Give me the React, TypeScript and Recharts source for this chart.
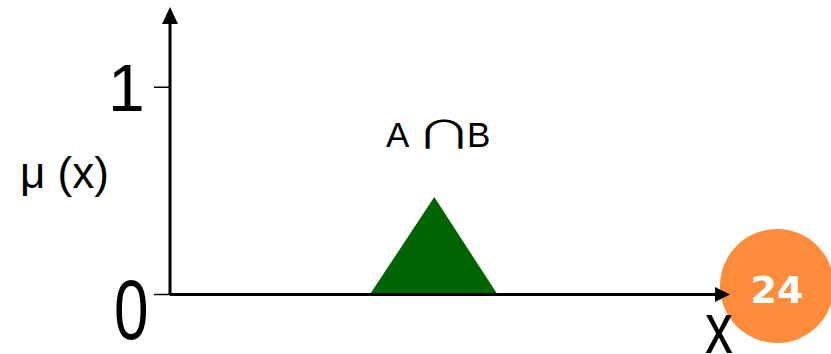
import React from "react";
import {
  ComposedChart,
  Area,
  XAxis,
  YAxis,
  ReferenceLine,
  ReferenceDot,
  Customized,
} from "recharts";

// Membership function of A ∩ B (triangle)
const triangleX = [36.6, 48.4, 60];
const triangleMu = [0, 0.47, 0];
const yTicks = [0, 1];
const yTickLabels = ["0", "1"];
const xDomain: [number, number] = [0, 100];
const yDomain: [number, number] = [0, 1.31];
const pageNumber = "24";

const data = triangleX.map((x, i) => ({ x, mu: triangleMu[i] }));

const FONT = "'Liberation Sans', Arial, sans-serif";

const YTick = (props: any) => {
  const { x, y, payload } = props;
  const idx = yTicks.indexOf(payload.value);
  const label = yTickLabels[idx];
  return (
    <g>
      <line x1={x - 16} x2={x} y1={y} y2={y} stroke="#000" strokeWidth={1.5} />
      {payload.value === 1 ? (
        <text x={x - 62} y={y + 24} fontSize={66} fontFamily={FONT} fill="#000">
          {label}
        </text>
      ) : (
        <text
          transform={`translate(${x - 56},${y + 44}) scale(1,1.36)`}
          fontSize={62}
          fontFamily={FONT}
          fill="#000"
        >
          {label}
        </text>
      )}
    </g>
  );
};

const UpArrow = (props: any) => {
  const { cx, cy } = props;
  return <polygon points={`${cx - 8},${cy + 1} ${cx + 8},${cy + 1} ${cx},${cy - 16}`} fill="#000" />;
};

const RightArrow = (props: any) => {
  const { cx, cy } = props;
  return <polygon points={`${cx - 1},${cy - 7.5} ${cx - 1},${cy + 7.5} ${cx + 14},${cy}`} fill="#000" />;
};

const Badge = () => (
  <g>
    <circle cx={777} cy={286} r={57} fill="#FF8C3B" />
    <text
      x={777}
      y={303}
      textAnchor="middle"
      fontSize={38}
      fontWeight="bold"
      fontFamily="'DejaVu Sans', sans-serif"
      fill="#fff"
    >
      {pageNumber}
    </text>
  </g>
);

const Texts = () => (
  <g fill="#000">
    <text x={20} y={188} fontSize={44} fontFamily={FONT}>
      μ (x)
    </text>
    <text x={386} y={147} fontSize={35} fontFamily={FONT}>
      A
    </text>
    <text
      transform="translate(444,148) scale(1.5,1)"
      textAnchor="middle"
      fontSize={38}
      fontFamily="'Noto Sans CJK JP', sans-serif"
    >
      ∩
    </text>
    <text x={467} y={147} fontSize={35} fontFamily={FONT}>
      B
    </text>
    <text transform="translate(705,353) scale(1,1.3)" fontSize={56} fontFamily={FONT}>
      x
    </text>
  </g>
);

export default function App() {
  return (
    <div style={{ position: "absolute", left: 0, top: 0, width: 831, height: 354, background: "#fff" }}>
      <ComposedChart
        width={831}
        height={354}
        data={data}
        margin={{ top: 23, right: 115, bottom: 59.5, left: 110 }}
      >
        <Customized component={Badge} />
        <XAxis type="number" dataKey="x" domain={xDomain} hide />
        <YAxis
          type="number"
          domain={yDomain}
          ticks={yTicks}
          width={60}
          axisLine={false}
          tickLine={false}
          tickSize={0}
          tickMargin={0}
          tick={<YTick />}
          interval={0}
        />
        <Area
          type="linear"
          dataKey="mu"
          fill="#006400"
          fillOpacity={1}
          stroke="none"
          isAnimationActive={false}
        />
        <ReferenceLine
          segment={[{ x: 0, y: 0 }, { x: 0, y: yDomain[1] }]}
          stroke="#000"
          strokeWidth={3}
          ifOverflow="visible"
        />
        <ReferenceLine
          segment={[{ x: 0, y: 0 }, { x: xDomain[1], y: 0 }]}
          stroke="#000"
          strokeWidth={3}
          ifOverflow="visible"
        />
        <ReferenceDot x={0} y={yDomain[1]} shape={<UpArrow />} ifOverflow="visible" />
        <ReferenceDot x={xDomain[1]} y={0} shape={<RightArrow />} ifOverflow="visible" />
        <Customized component={Texts} />
      </ComposedChart>
    </div>
  );
}
